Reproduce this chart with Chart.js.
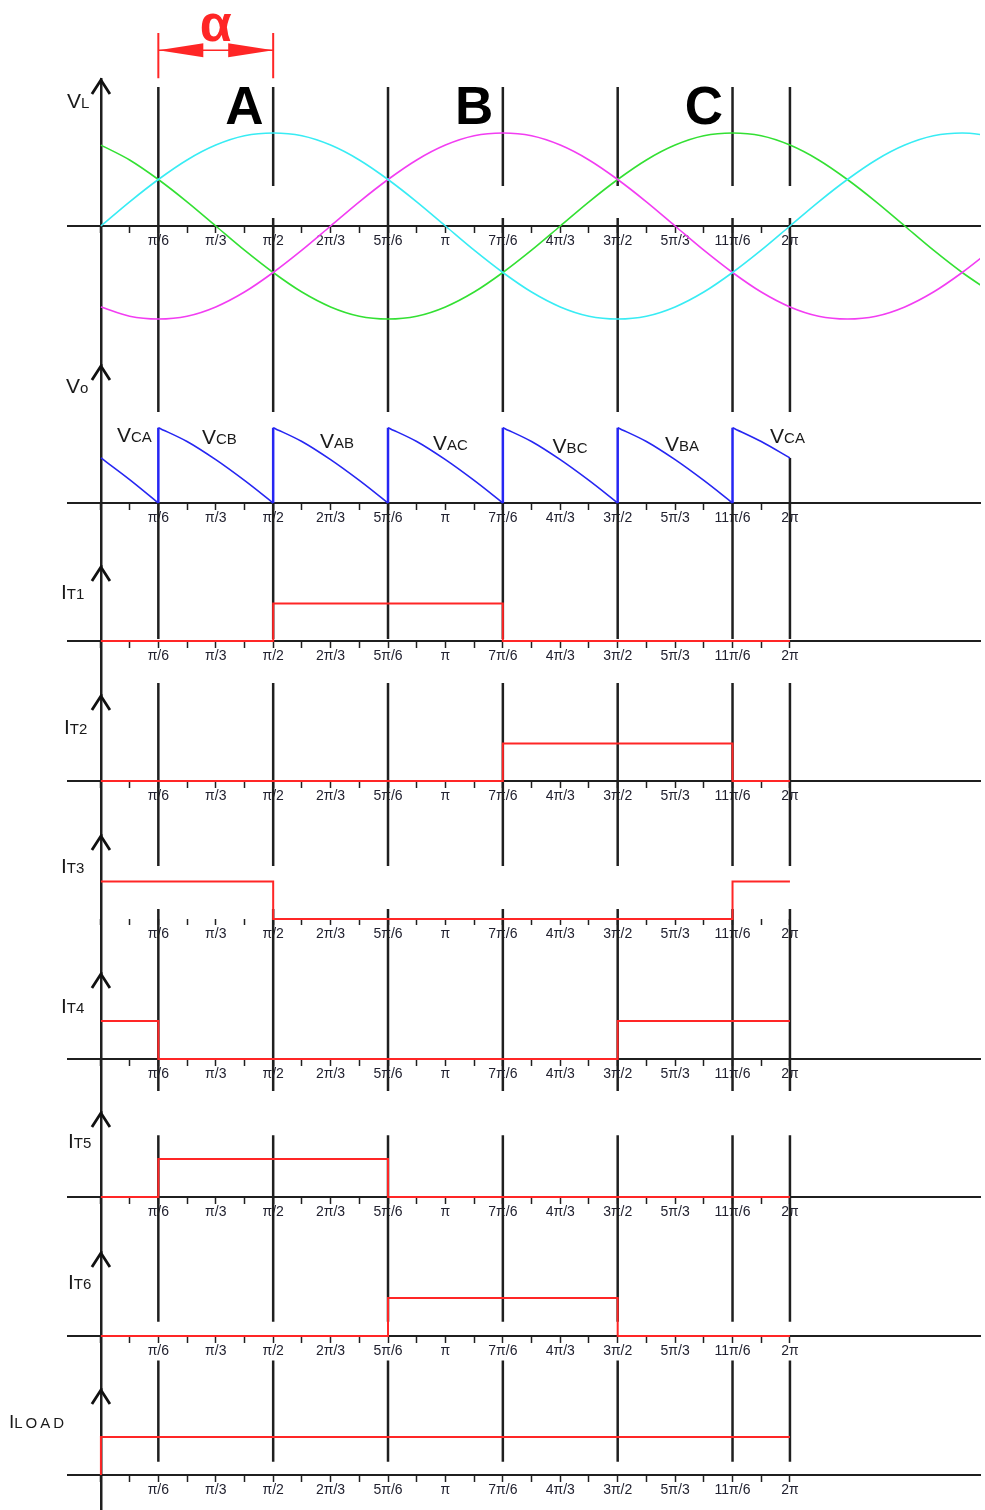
<!DOCTYPE html>
<html>
<head>
<meta charset="utf-8">
<title>Three-phase controlled rectifier waveforms</title>
<script src="https://cdn.jsdelivr.net/npm/chart.js@4.4.1/dist/chart.umd.min.js"></script>
<style>
html,body{margin:0;padding:0;background:#ffffff;}
#stage{position:relative;width:985px;height:1510px;overflow:hidden;background:#ffffff;}
#stage canvas{position:absolute;left:0;top:0;}
</style>
</head>
<body>
<div id="stage"></div>
<script>
// ================= DATA (angles in degrees) =================
const angles   = [0,15,30,45,60,75,90,105,120,135,150,165,180,195,210,225,240,255,270,285,300,315,330,345,360,375,390,405,420,435,450,465];
const vlCyan    = [0,0.26,0.5,0.71,0.87,0.97,1,0.97,0.87,0.71,0.5,0.26,0,-0.26,-0.5,-0.71,-0.87,-0.97,-1,-0.97,-0.87,-0.71,-0.5,-0.26,0,0.26,0.5,0.71,0.87,0.97,1,0.97];
const vlMagenta = [-0.87,-0.97,-1,-0.97,-0.87,-0.71,-0.5,-0.26,0,0.26,0.5,0.71,0.87,0.97,1,0.97,0.87,0.71,0.5,0.26,0,-0.26,-0.5,-0.71,-0.87,-0.97,-1,-0.97,-0.87,-0.71,-0.5,-0.26];
const vlGreen   = [0.87,0.71,0.5,0.26,0,-0.26,-0.5,-0.71,-0.87,-0.97,-1,-0.97,-0.87,-0.71,-0.5,-0.26,0,0.26,0.5,0.71,0.87,0.97,1,0.97,0.87,0.71,0.5,0.26,0,-0.26,-0.5,-0.71];

// output voltage: repeated angle = vertical jump at firing instant
const voAngle = [0,15,30, 30,45,60,75,90, 90,105,120,135,150, 150,165,180,195,210, 210,225,240,255,270, 270,285,300,315,330, 330,345,360];
const voValue = [0.52,0.27,0, 0.87,0.71,0.5,0.26,0, 0.87,0.71,0.5,0.26,0, 0.87,0.71,0.5,0.26,0, 0.87,0.71,0.5,0.26,0, 0.87,0.71,0.5,0.26,0, 0.87,0.71,0.52];
const voLabelSub   = ['CA','CB','AB','AC','BC','BA','CA'];
const voLabelAngle = [8.4,52.8,114.5,173.5,236,294.7,349.6];
const voLabelLevel = [0.70,0.68,0.635,0.61,0.58,0.60,0.69];

// thyristor / load currents (1 = conducting)
const it1Angle = [0,90,90,210,210,360];   const it1Value = [0,0,1,1,0,0];
const it2Angle = [0,210,210,330,330,360]; const it2Value = [0,0,1,1,0,0];
const it3Angle = [0,90,90,330,330,360];   const it3Value = [1,1,0,0,1,1];
const it4Angle = [0,30,30,270,270,360];   const it4Value = [1,1,0,0,1,1];
const it5Angle = [0,30,30,150,150,360];   const it5Value = [0,0,1,1,0,0];
const it6Angle = [0,150,150,270,270,360]; const it6Value = [0,0,1,1,0,0];
const iloadAngle = [0,0,360];             const iloadValue = [0,1,1];

const firingAngles = [30,90,150,210,270,330,360];
const tickValues = [0,15,30,45,60,75,90,105,120,135,150,165,180,195,210,225,240,255,270,285,300,315,330,345,360];
const tickLabelValues = [30,60,90,120,150,180,210,240,270,300,330,360];
const tickLabelText = ['π/6','π/3','π/2','2π/3','5π/6','π','7π/6','4π/3','3π/2','5π/3','11π/6','2π'];
const phaseLetters = ['A','B','C'];
const phaseLetterAngle = [75,195,315];
const alphaStart = 30, alphaEnd = 90;

// ================= STYLE / LAYOUT =================
const W = 985, H = 1510;
const FONT = '"Liberation Sans", Arial, Helvetica, sans-serif';
const X_MIN = -17.2, X_MAX = 459.3;
const AREA_LEFT = 68, AREA_RIGHT = 980;
const BLACK = '#1f1f1f', RED = '#ff2626', BLUE = '#2626f2';
const CYAN = '#38ecf4', MAGENTA = '#f23df2', GREEN = '#33e033';

function pts(xs, ys) { return xs.map((x, i) => ({x: x, y: ys[i]})); }

function guideDataset(segs) {
  const p = [];
  segs.forEach(s => { p.push({x: s[0], y: s[1]}, {x: s[0], y: s[2]}, {x: s[0], y: null}); });
  return {data: p, borderColor: BLACK, borderWidth: 2.5, clip: false, order: 2, spanGaps: false, pointRadius: 0};
}
function allFiring(top, bottom) { return firingAngles.map(a => [a, top, bottom]); }
function stepDataset(xs, ys) {
  return {data: pts(xs, ys), borderColor: RED, borderWidth: 2, order: 0, pointRadius: 0, clip: false};
}

// VL guide segments (lines broken near axis for most angles)
const vlSegs = [];
firingAngles.forEach(a => {
  if (a === 30 || a === 150) vlSegs.push([a, 1.495, -2.0]);
  else { vlSegs.push([a, 1.495, 0.43]); vlSegs.push([a, 0.086, -2.0]); }
});
// Vo guide segments start where the output curve sits at that angle
const voSegs = firingAngles.map(a => {
  let top = Infinity;
  voAngle.forEach((x, i) => { if (x === a) top = Math.min(top, voValue[i]); });
  return [a, top, -1.57];
});

// Vo curve split at jumps + jump lines
const voPts = [], voJumps = [];
for (let i = 0; i < voAngle.length; i++) {
  if (i > 0 && voAngle[i] === voAngle[i - 1]) {
    voPts.push({x: voAngle[i], y: null});
    voJumps.push({x: voAngle[i - 1], y: voValue[i - 1]}, {x: voAngle[i], y: voValue[i]}, {x: voAngle[i], y: null});
  }
  voPts.push({x: voAngle[i], y: voValue[i]});
}

function drawTitle(ctx, parts, x, y) {
  ctx.save();
  ctx.fillStyle = '#1a1a1a';
  ctx.textBaseline = 'alphabetic';
  ctx.textAlign = 'left';
  let cx = x;
  parts.forEach(p => {
    ctx.font = p[1] + 'px ' + FONT;
    if (p[2]) { try { ctx.letterSpacing = p[2] + 'px'; } catch (e) {} }
    ctx.fillText(p[0], cx, y);
    cx += ctx.measureText(p[0]).width;
    try { ctx.letterSpacing = '0px'; } catch (e) {}
  });
  ctx.restore();
}

function drawVLExtras(chart) {
  const ctx = chart.ctx, xs = chart.scales.x, ys = chart.scales.y;
  ctx.save();
  // alpha dimension
  const xa = xs.getPixelForValue(alphaStart), xb = xs.getPixelForValue(alphaEnd);
  const yT = ys.getPixelForValue(2.075), yB = ys.getPixelForValue(1.59), yA = ys.getPixelForValue(1.89);
  ctx.strokeStyle = RED; ctx.fillStyle = RED; ctx.lineWidth = 2;
  ctx.beginPath();
  ctx.moveTo(xa, yT); ctx.lineTo(xa, yB);
  ctx.moveTo(xb, yT); ctx.lineTo(xb, yB);
  ctx.stroke();
  ctx.lineWidth = 1.5;
  ctx.beginPath(); ctx.moveTo(xa, yA); ctx.lineTo(xb, yA); ctx.stroke();
  ctx.beginPath(); ctx.moveTo(xa, yA); ctx.lineTo(xa + 45, yA - 7); ctx.lineTo(xa + 45, yA + 7); ctx.closePath(); ctx.fill();
  ctx.beginPath(); ctx.moveTo(xb, yA); ctx.lineTo(xb - 45, yA - 7); ctx.lineTo(xb - 45, yA + 7); ctx.closePath(); ctx.fill();
  ctx.font = 'bold 52px ' + FONT;
  ctx.textAlign = 'center'; ctx.textBaseline = 'alphabetic';
  ctx.fillText('α', xs.getPixelForValue((alphaStart + alphaEnd) / 2), ys.getPixelForValue(1.99));
  // phase letters
  ctx.fillStyle = '#000000';
  ctx.font = 'bold 53px ' + FONT;
  phaseLetters.forEach((L, i) => {
    ctx.fillText(L, xs.getPixelForValue(phaseLetterAngle[i]), ys.getPixelForValue(1.097));
  });
  ctx.restore();
}

function drawVoExtras(chart) {
  const xs = chart.scales.x, ys = chart.scales.y;
  voLabelSub.forEach((s, i) => {
    drawTitle(chart.ctx, [['V', 21], [s, 15]], xs.getPixelForValue(voLabelAngle[i]), ys.getPixelForValue(voLabelLevel[i]));
  });
}

const panels = [
  {id: 'VL', tip: 79, base: 226, unit: 93, next: 365, title: [['V', 21], ['L', 15]], tx: 67, ty: 108, extra: drawVLExtras,
   datasets: [
     {data: pts(angles, vlCyan), borderColor: CYAN, borderWidth: 1.6, cubicInterpolationMode: 'monotone', order: 0, pointRadius: 0},
     {data: pts(angles, vlMagenta), borderColor: MAGENTA, borderWidth: 1.6, cubicInterpolationMode: 'monotone', order: 0, pointRadius: 0},
     {data: pts(angles, vlGreen), borderColor: GREEN, borderWidth: 1.6, cubicInterpolationMode: 'monotone', order: 0, pointRadius: 0},
     guideDataset(vlSegs)
   ]},
  {id: 'Vo', tip: 365, base: 503, unit: 86.6, next: 566, title: [['V', 21], ['o', 15]], tx: 66, ty: 393, extra: drawVoExtras,
   datasets: [
     {data: voPts, borderColor: BLUE, borderWidth: 1.6, cubicInterpolationMode: 'monotone', spanGaps: false, order: 0, pointRadius: 0},
     {data: voJumps, borderColor: BLUE, borderWidth: 2.5, spanGaps: false, order: 0, pointRadius: 0},
     guideDataset(voSegs)
   ]},
  {id: 'IT1', tip: 566, base: 641, unit: 37.5, next: 695, title: [['I', 21], ['T1', 15]], tx: 61, ty: 599,
   datasets: [stepDataset(it1Angle, it1Value)]},
  {id: 'IT2', tip: 695, base: 781, unit: 37.5, next: 835, title: [['I', 21], ['T2', 15]], tx: 64, ty: 734,
   datasets: [stepDataset(it2Angle, it2Value), guideDataset(allFiring(2.613, -2.267))]},
  {id: 'IT3', tip: 835, base: 919, unit: 37.5, next: 973, title: [['I', 21], ['T3', 15]], tx: 61, ty: 873, axisLine: false,
   datasets: [stepDataset(it3Angle, it3Value), guideDataset(allFiring(0.267, -4.587))]},
  {id: 'IT4', tip: 973, base: 1059, unit: 38, next: 1112, title: [['I', 21], ['T4', 15]], tx: 61, ty: 1013,
   datasets: [stepDataset(it4Angle, it4Value)]},
  {id: 'IT5', tip: 1112, base: 1197, unit: 38, next: 1252, title: [['I', 21], ['T5', 15]], tx: 68, ty: 1148,
   datasets: [stepDataset(it5Angle, it5Value), guideDataset(allFiring(1.627, -3.28))]},
  {id: 'IT6', tip: 1252, base: 1336, unit: 38, next: 1389, title: [['I', 21], ['T6', 15]], tx: 68, ty: 1289,
   datasets: [stepDataset(it6Angle, it6Value)]},
  {id: 'ILOAD', tip: 1389, base: 1475, unit: 38, next: 1510, title: [['I', 19], ['LOAD', 15, 3]], tx: 9, ty: 1428,
   datasets: [stepDataset(iloadAngle, iloadValue), guideDataset(allFiring(3.013, 0.347))]}
];

const stage = document.getElementById('stage');

function makeChart(p) {
  const cv = document.createElement('canvas');
  cv.width = W; cv.height = H;
  cv.style.width = W + 'px'; cv.style.height = H + 'px';
  stage.appendChild(cv);
  const yMax = (p.base - p.tip) / p.unit;
  const yMin = -(p.next - p.base) / p.unit;
  return new Chart(cv.getContext('2d'), {
    type: 'line',
    data: {datasets: p.datasets},
    options: {
      responsive: false, animation: false, devicePixelRatio: 1, events: [],
      layout: {padding: {left: AREA_LEFT, right: W - AREA_RIGHT, top: p.tip, bottom: H - p.next}},
      plugins: {legend: {display: false}, tooltip: {enabled: false}},
      elements: {point: {radius: 0, hoverRadius: 0}, line: {tension: 0, borderCapStyle: 'butt'}},
      scales: {
        x: {
          type: 'linear', min: X_MIN, max: X_MAX, position: {y: 0},
          afterBuildTicks: (s) => { s.ticks = tickValues.map(v => ({value: v})); },
          afterFit: (s) => { s.height = 0; },
          grid: {display: true, drawOnChartArea: false, drawTicks: true, tickLength: 6, tickWidth: 1.5, tickColor: BLACK, color: BLACK},
          border: {display: p.axisLine !== false, color: BLACK, width: 2},
          ticks: {
            autoSkip: false, maxRotation: 0, minRotation: 0, padding: 1,
            color: '#222230', font: {family: FONT, size: 14},
            callback: (v) => { const i = tickLabelValues.indexOf(v); return i >= 0 ? tickLabelText[i] : ''; }
          }
        },
        y: {
          type: 'linear', min: yMin, max: yMax, position: {x: 0},
          afterFit: (s) => { s.width = 0; },
          ticks: {display: false},
          grid: {display: false},
          border: {display: true, color: BLACK, width: 2.5}
        }
      }
    },
    plugins: [{
      id: 'decor' + p.id,
      afterDraw: (chart) => {
        const ctx = chart.ctx;
        const x0 = chart.scales.x.getPixelForValue(0);
        const top = chart.chartArea.top;
        ctx.save();
        ctx.strokeStyle = '#111111'; ctx.lineWidth = 2.8; ctx.lineJoin = 'miter'; ctx.lineCap = 'butt';
        ctx.beginPath(); ctx.moveTo(x0 - 9, top + 15); ctx.lineTo(x0, top + 1); ctx.lineTo(x0 + 9, top + 15); ctx.stroke();
        ctx.restore();
        drawTitle(ctx, p.title, p.tx, p.ty);
        if (p.extra) p.extra(chart);
      }
    }]
  });
}

panels.forEach(makeChart);
</script>
</body>
</html>
